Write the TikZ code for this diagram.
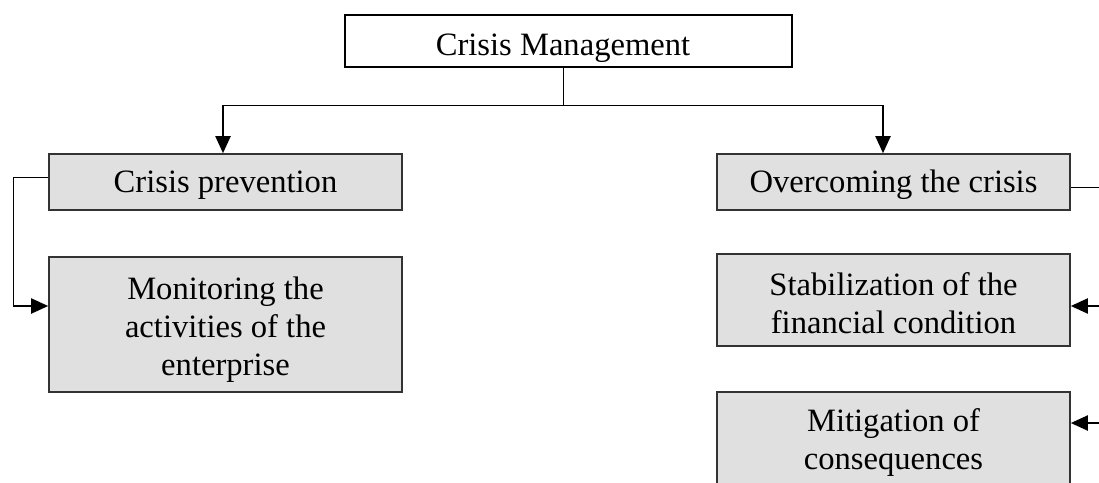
\documentclass[tikz,border=0pt]{standalone}
\usepackage{fontspec}
\setmainfont{Liberation Serif}
\usetikzlibrary{arrows.meta}
\definecolor{boxfill}{HTML}{E0E0E0}
\definecolor{boxline}{HTML}{333333}
\begin{document}
\begin{tikzpicture}[x=1pt,y=-1pt,
  greybox/.style={draw=boxline,line width=1.6pt,fill=boxfill,rectangle,inner sep=0pt},
  topbox/.style={draw=black,line width=2pt,rectangle,inner sep=0pt},
  lbl/.style={inner sep=0pt,align=center,font=\fontsize{32.6}{38}\selectfont},
  conn/.style={draw=black,line width=1pt},
  arr/.style={draw=black,line width=2pt,-{Triangle[length=17pt,width=15pt]}}]
\useasboundingbox (0,0) rectangle (1099,482);
\clip (0,0) rectangle (1099,482);
% top
\node[lbl,anchor=base] (cmtext) at (563,55) {Crisis Management};
\node[topbox,minimum width=447pt,minimum height=52pt] (top) at (568.5,41) {};
% boxes
\node[greybox,minimum width=353pt,minimum height=56pt] (prev) at (225.5,182) {};
\node[greybox,minimum width=353pt,minimum height=135pt] (mon) at (225.5,324.5) {};
\node[greybox,minimum width=353pt,minimum height=56pt] (over) at (893.5,182) {};
\node[greybox,minimum width=353pt,minimum height=92pt] (stab) at (893.5,300) {};
\node[greybox,minimum width=353pt,minimum height=96pt] (mit) at (893.5,440) {};
% texts
\node[lbl] (prevt) at ([yshift=-3pt]prev.center) {Crisis prevention};
\node[lbl] (mont) at ([yshift=-5pt]mon.center) {Monitoring the\\activities of the\\enterprise};
\node[lbl] (overt) at ([yshift=-3pt]over.center) {Overcoming the crisis};
\node[lbl] (stabt) at ([yshift=-3pt]stab.center) {Stabilization of the\\financial condition};
\node[lbl] (mitt) at ([yshift=-2pt]mit.center) {Mitigation of\\consequences};
% coordinates
\coordinate (j) at (563,105);
\coordinate (jl) at (223,105);
\coordinate (jr) at (883,105);
\coordinate (L1) at (13,177);
\coordinate (L2) at (13,306);
\coordinate (R1) at (1106,187);
\coordinate (R2) at (1106,306);
\coordinate (R3) at (1106,423);
% connectors
\draw[conn] (top.south -| j) -- (j);
\draw[conn] (jl) -- (jr);
\draw[arr] (jl) -- (jl |- prev.north);
\draw[arr] (jr) -- (jr |- over.north);
\draw[conn] (prev.west |- L1) -- (L1) -- (L2);
\draw[arr] (L2) -- (mon.west |- L2);
\draw[conn] (over.east |- R1) -- (R1);
\draw[arr] (R2) -- (stab.east |- R2);
\draw[arr] (R3) -- (mit.east |- R3);
\end{tikzpicture}
\end{document}
